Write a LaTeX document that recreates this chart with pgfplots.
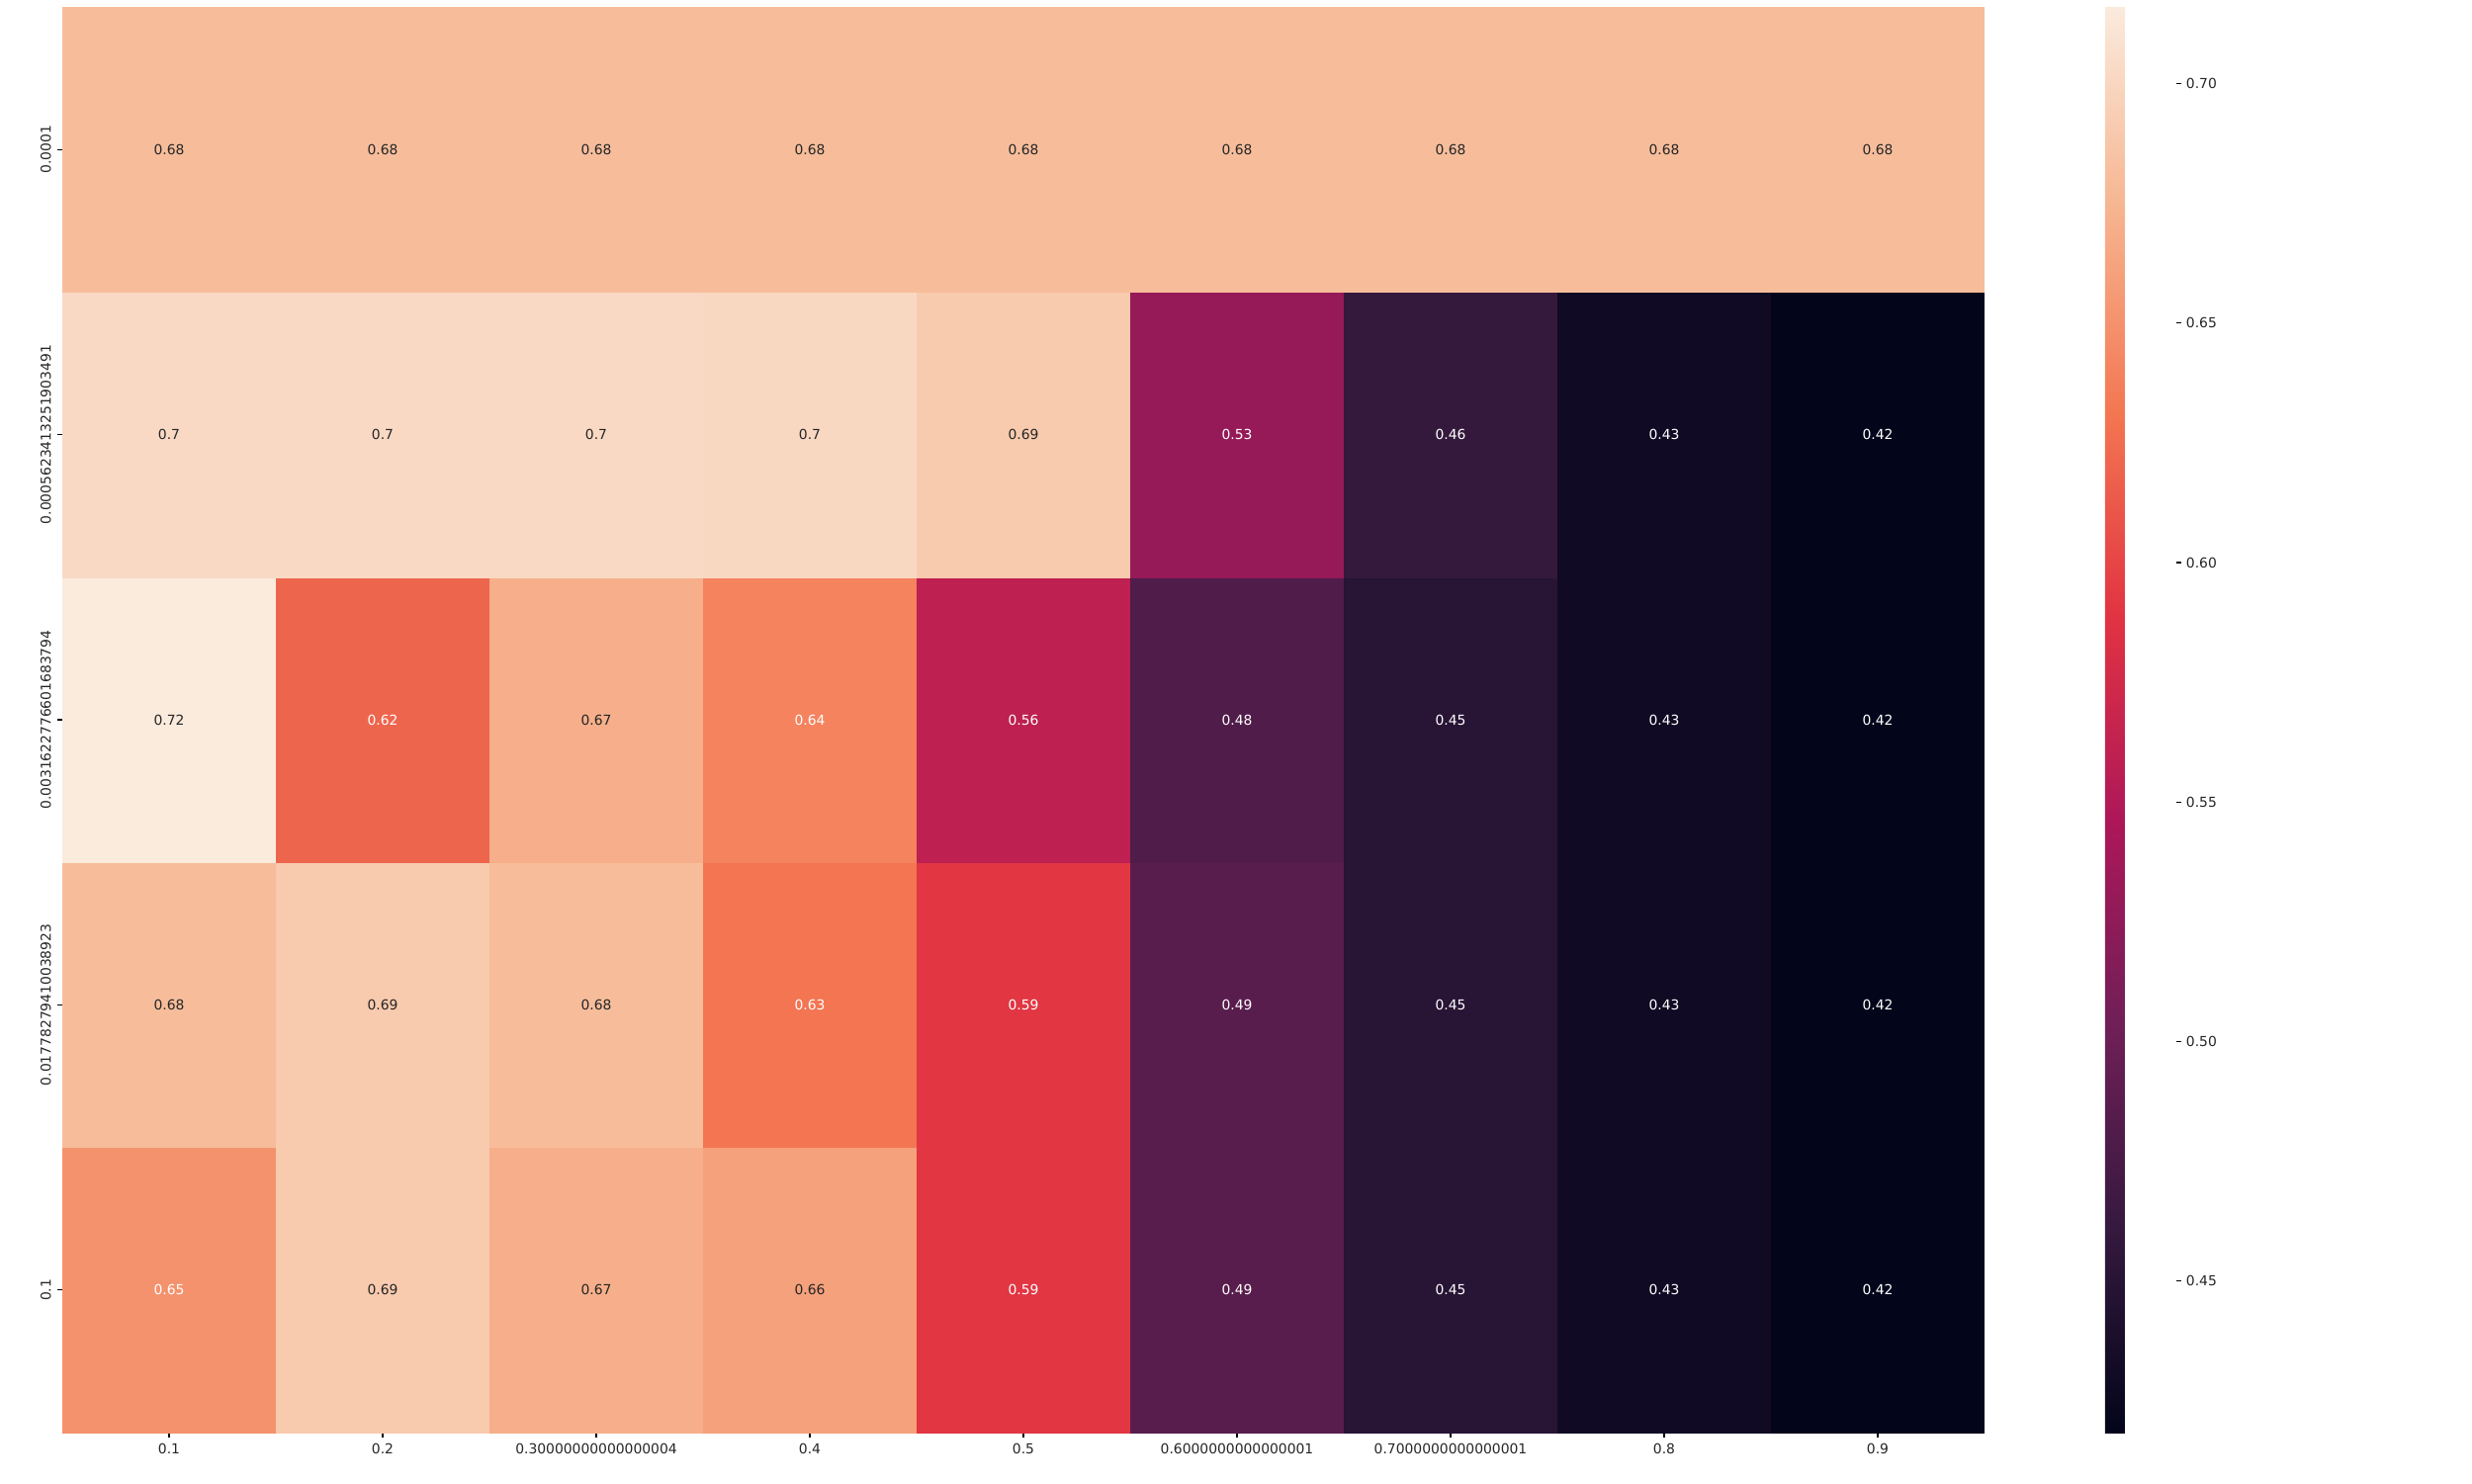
\documentclass[border=0pt]{standalone}
\usepackage{pgfplots}
\pgfplotsset{compat=1.18}
\usepackage{pgfplotstable}
\usepackage{fontspec}
\setmainfont{DejaVu Sans}
\definecolor{darktext}{RGB}{38,38,38}
\pgfplotstableread{
x y c
0 0 0.650
1 0 0.690
2 0 0.670
3 0 0.660
4 0 0.590
5 0 0.487
6 0 0.450
7 0 0.430
8 0 0.4184
0 1 0.680
1 1 0.690
2 1 0.680
3 1 0.630
4 1 0.590
5 1 0.487
6 1 0.450
7 1 0.430
8 1 0.4184
0 2 0.716
1 2 0.620
2 2 0.670
3 2 0.640
4 2 0.560
5 2 0.480
6 2 0.450
7 2 0.430
8 2 0.4184
0 3 0.702
1 3 0.702
2 3 0.702
3 3 0.701
4 3 0.690
5 3 0.530
6 3 0.460
7 3 0.430
8 3 0.4184
0 4 0.680
1 4 0.680
2 4 0.680
3 4 0.680
4 4 0.680
5 4 0.680
6 4 0.680
7 4 0.680
8 4 0.680
}\heatdata
\pgfplotstableread{
x y t
0 4 0.68
1 4 0.68
2 4 0.68
3 4 0.68
4 4 0.68
5 4 0.68
6 4 0.68
7 4 0.68
8 4 0.68
0 3 0.7
1 3 0.7
2 3 0.7
3 3 0.7
4 3 0.69
0 2 0.72
2 2 0.67
0 1 0.68
1 1 0.69
2 1 0.68
1 0 0.69
2 0 0.67
3 0 0.66
}\darklabels
\pgfplotstableread{
x y t
5 3 0.53
6 3 0.46
7 3 0.43
8 3 0.42
1 2 0.62
3 2 0.64
4 2 0.56
5 2 0.48
6 2 0.45
7 2 0.43
8 2 0.42
3 1 0.63
4 1 0.59
5 1 0.49
6 1 0.45
7 1 0.43
8 1 0.42
0 0 0.65
4 0 0.59
5 0 0.49
6 0 0.45
7 0 0.43
8 0 0.42
}\whitelabels
\begin{document}
\fontsize{10}{12}\selectfont
\begin{tikzpicture}
\useasboundingbox (0,0) rectangle (1800pt,1080pt);
\begin{axis}[
  at={(45.36pt,36.72pt)}, anchor=south west,
  width=1399.68pt, height=1038.24pt, scale only axis,
  xmin=-0.5, xmax=8.5, ymin=-0.5, ymax=4.5,
  axis x line=bottom, axis y line=left,
  axis line style={draw=none},
  tick align=outside, major tick length=3.5pt,
  tick style={black, line width=0.8pt},
  xtick={0,1,2,3,4,5,6,7,8},
  xticklabels={0.1,0.2,0.30000000000000004,0.4,0.5,0.6000000000000001,0.7000000000000001,0.8,0.9},
  ytick={0,1,2,3,4},
  yticklabels={0.1,0.01778279410038923,0.0031622776601683794,0.0005623413251903491,0.0001},
  xticklabel style={inner sep=0pt, anchor=north, text=darktext},
  yticklabel style={inner sep=0pt, rotate=90, anchor=south, text=darktext},
  xticklabel shift=4.4pt, yticklabel shift=4.6pt,
  colormap={rocket}{rgb255(0cm)=(3,5,26); rgb255(1cm)=(53,25,62); rgb255(2cm)=(112,31,87); rgb255(3cm)=(173,23,89); rgb255(4cm)=(225,51,66); rgb255(5cm)=(243,118,81); rgb255(6cm)=(246,180,143); rgb255(7cm)=(250,235,221)},
  point meta min=0.4184, point meta max=0.716,
  colorbar,
  colorbar style={
    at={(1.06276,0)}, anchor=south west,
    width=51.84pt, height=1038.24pt, scale only axis,
    axis line style={draw=none},
    ytick={0.45,0.5,0.55,0.6,0.65,0.7},
    yticklabels={0.45,0.50,0.55,0.60,0.65,0.70},
    ytick pos=right, tick align=outside, major tick length=3.5pt,
    tick style={black, line width=0.8pt},
    yticklabel style={inner sep=0pt, anchor=west, text=darktext},
    yticklabel shift=3.5pt,
  },
]
\addplot[matrix plot*, mesh/cols=9, mesh/rows=5, point meta=explicit] table[x=x, y=y, meta=c] {\heatdata};
\addplot[only marks, mark=*, mark size=0pt, mark options={draw=none, fill=none},
  point meta=explicit symbolic, nodes near coords,
  nodes near coords style={anchor=center, inner sep=0pt, text=darktext}]
  table[x=x, y=y, meta=t] {\darklabels};
\addplot[only marks, mark=*, mark size=0pt, mark options={draw=none, fill=none},
  point meta=explicit symbolic, nodes near coords,
  nodes near coords style={anchor=center, inner sep=0pt, text=white}]
  table[x=x, y=y, meta=t] {\whitelabels};
\end{axis}
\end{tikzpicture}
\end{document}
